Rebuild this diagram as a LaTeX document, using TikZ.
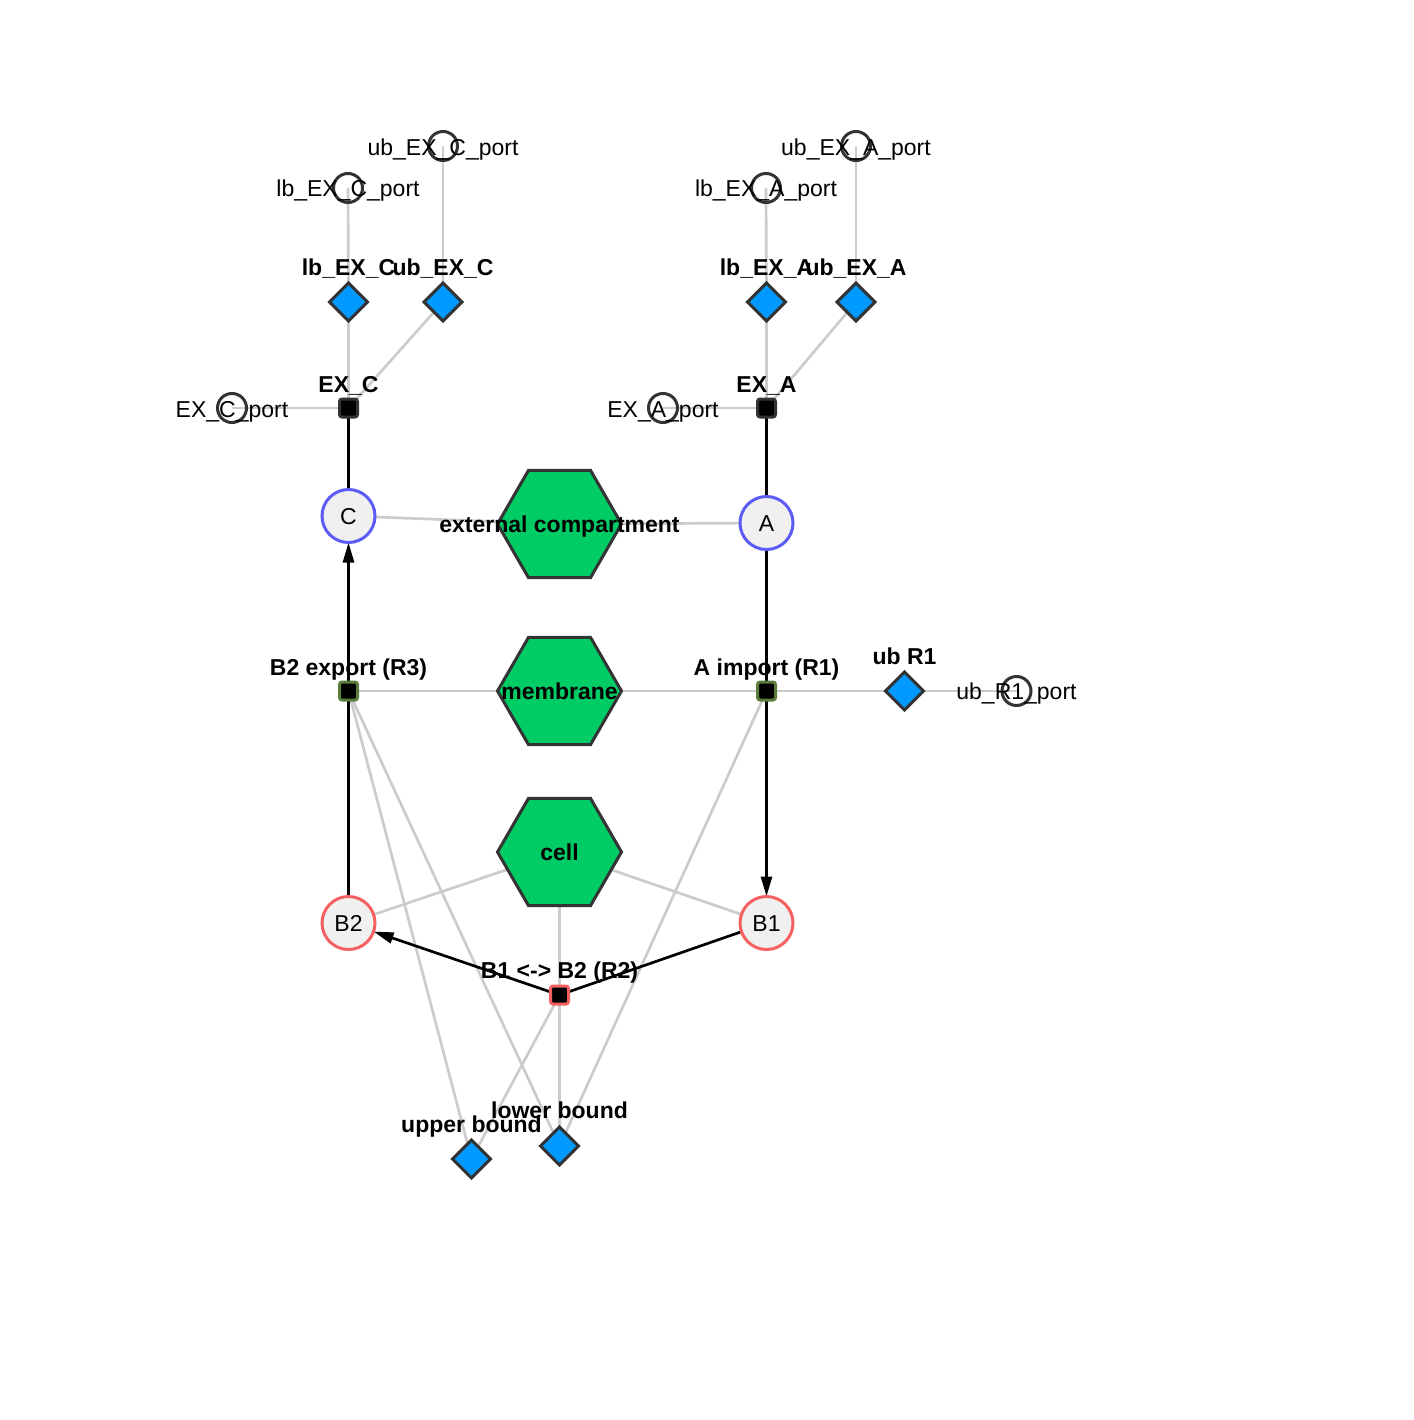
\documentclass[tikz,border=0pt]{standalone}
\usepackage{fontspec}
\setmainfont{Liberation Sans}
\usetikzlibrary{shapes.geometric,arrows.meta}
\pgfdeclarelayer{bg}
\pgfsetlayers{bg,main}
\definecolor{edgegray}{HTML}{CCCCCC}
\definecolor{dark}{HTML}{333333}
\definecolor{diafill}{HTML}{0099FF}
\definecolor{hexfill}{HTML}{00CC66}
\definecolor{circfill}{HTML}{F0F0F0}
\definecolor{bluebd}{HTML}{5C5CF5}
\definecolor{redbd}{HTML}{F56060}
\definecolor{greenbd}{HTML}{5A7D3C}
\tikzset{
  every node/.style={font=\fontsize{23}{27}\selectfont, inner sep=0pt, outer sep=0pt},
  port/.style={circle, draw=dark, line width=3pt, minimum size=29pt},
  param/.style={diamond, draw=dark, fill=diafill, line width=3pt, minimum size=38pt},
  rxn/.style={rectangle, draw=dark, fill=black, line width=3pt, minimum size=18pt, rounded corners=2.5pt},
  species/.style={circle, fill=circfill, line width=3pt, minimum size=53pt},
  comp/.style={regular polygon, regular polygon sides=6, draw=dark, fill=hexfill, line width=3pt, minimum size=124pt},
  gedge/.style={draw=edgegray, line width=2.7pt},
  bedge/.style={draw=black, line width=2.7pt},
  arr/.style={bedge, -{Triangle[length=20pt,width=11pt]}},
  lbl/.style={anchor=base},
  blbl/.style={anchor=base, font=\fontsize{23}{27}\selectfont\bfseries},
}
\begin{document}
\begin{tikzpicture}[x=1pt,y=-1pt]
\useasboundingbox (0,0) rectangle (1413,1420);
% nodes
\node[port] (ubECp) at (443,146) {};
\node[port] (lbECp) at (348,188) {};
\node[param] (lbEC) at (348.5,302) {};
\node[param] (ubEC) at (443,302) {};
\node[rxn] (EXC) at (348.5,408) {};
\node[port] (ECp) at (232,408) {};
\node[species, draw=bluebd] (C) at (348.5,516) {};
\node[port] (ubEAp) at (856,146) {};
\node[port] (lbEAp) at (766,188) {};
\node[param] (lbEA) at (766.5,302) {};
\node[param] (ubEA) at (856,302) {};
\node[rxn] (EXA) at (766.5,408) {};
\node[port] (EAp) at (663,408) {};
\node[species, draw=bluebd] (A) at (766.5,523) {};
\node[comp] (ext) at (559.5,524) {};
\node[comp] (mem) at (559.5,691) {};
\node[comp] (cell) at (559.5,852) {};
\node[rxn, draw=greenbd] (R3) at (348.5,691) {};
\node[rxn, draw=greenbd] (R1) at (766.5,691) {};
\node[param] (ubR1) at (904.5,691) {};
\node[port] (ubR1p) at (1016.5,691) {};
\node[species, draw=redbd] (B2) at (348.5,923) {};
\node[species, draw=redbd] (B1) at (766.5,923) {};
\node[rxn, draw=redbd] (R2) at (559.5,995) {};
\node[param] (ub) at (471.5,1159) {};
\node[param] (lb) at (559.5,1146) {};
% edges
\begin{pgfonlayer}{bg}
\draw[gedge] (ubECp.center) -- (ubEC.center);
\draw[gedge] (lbECp.center) -- (lbEC.center);
\draw[gedge] (lbEC.center) -- (EXC.center);
\draw[gedge] (ubEC.center) -- (EXC.center);
\draw[gedge] (ECp.center) -- (EXC.center);
\draw[gedge] (C.center) -- (ext.center);
\draw[gedge] (ext.center) -- (A.center);
\draw[gedge] (ubEAp.center) -- (ubEA.center);
\draw[gedge] (lbEAp.center) -- (lbEA.center);
\draw[gedge] (lbEA.center) -- (EXA.center);
\draw[gedge] (ubEA.center) -- (EXA.center);
\draw[gedge] (EAp.center) -- (EXA.center);
\draw[gedge] (R3.center) -- (mem.center);
\draw[gedge] (mem.center) -- (R1.center);
\draw[gedge] (R1.center) -- (ubR1.center);
\draw[gedge] (ubR1.center) -- (ubR1p.center);
\draw[gedge] (cell.center) -- (B2.center);
\draw[gedge] (cell.center) -- (B1.center);
\draw[gedge] (cell.center) -- (R2.center);
\draw[gedge] (R3.center) -- (ub.center);
\draw[gedge] (R3.center) -- (lb.center);
\draw[gedge] (R1.center) -- (lb.center);
\draw[gedge] (R2.center) -- (ub.center);
\draw[gedge] (R2.center) -- (lb.center);
\draw[bedge] (EXC.center) -- (C.center);
\draw[bedge] (B2.center) -- (R3.center);
\draw[arr] (R3) -- (C);
\draw[bedge] (EXA.center) -- (A.center);
\draw[bedge] (A.center) -- (R1.center);
\draw[arr] (R1) -- (B1);
\draw[bedge] (B1.center) -- (R2.center);
\draw[arr] (R2) -- (B2);
\end{pgfonlayer}
% labels
\node[lbl] (t1) at (443,156) {ub\_EX\_C\_port};
\node[lbl] (t2) at (348,197) {lb\_EX\_C\_port};
\node[blbl] (t3) at (348.5,276) {lb\_EX\_C};
\node[blbl] (t4) at (443,276) {ub\_EX\_C};
\node[blbl] (t5) at (348.5,392) {EX\_C};
\node[lbl] (t6) at (232,417) {EX\_C\_port};
\node[lbl] (t7) at (348.5,524) {C};
\node[lbl] (t8) at (856,156) {ub\_EX\_A\_port};
\node[lbl] (t9) at (766,197) {lb\_EX\_A\_port};
\node[blbl] (t10) at (766.5,276) {lb\_EX\_A};
\node[blbl] (t11) at (856,276) {ub\_EX\_A};
\node[blbl] (t12) at (766.5,392) {EX\_A};
\node[lbl] (t13) at (663,417) {EX\_A\_port};
\node[lbl] (t14) at (766.5,531) {A};
\node[blbl] (t15) at (559.5,532) {external compartment};
\node[blbl] (t16) at (559.5,699) {membrane};
\node[blbl] (t17) at (559.5,860) {cell};
\node[blbl] (t18) at (348.5,675) {B2 export (R3)};
\node[blbl] (t19) at (766.5,675) {A import (R1)};
\node[blbl] (t20) at (904.5,664) {ub R1};
\node[lbl] (t21) at (1016.5,699) {ub\_R1\_port};
\node[lbl] (t22) at (348.5,931) {B2};
\node[lbl] (t23) at (766.5,931) {B1};
\node[blbl] (t24) at (559.5,978) {B1 <-> B2 (R2)};
\node[blbl] (t25) at (471.5,1132) {upper bound};
\node[blbl] (t26) at (559.5,1118) {lower bound};
\end{tikzpicture}
\end{document}
